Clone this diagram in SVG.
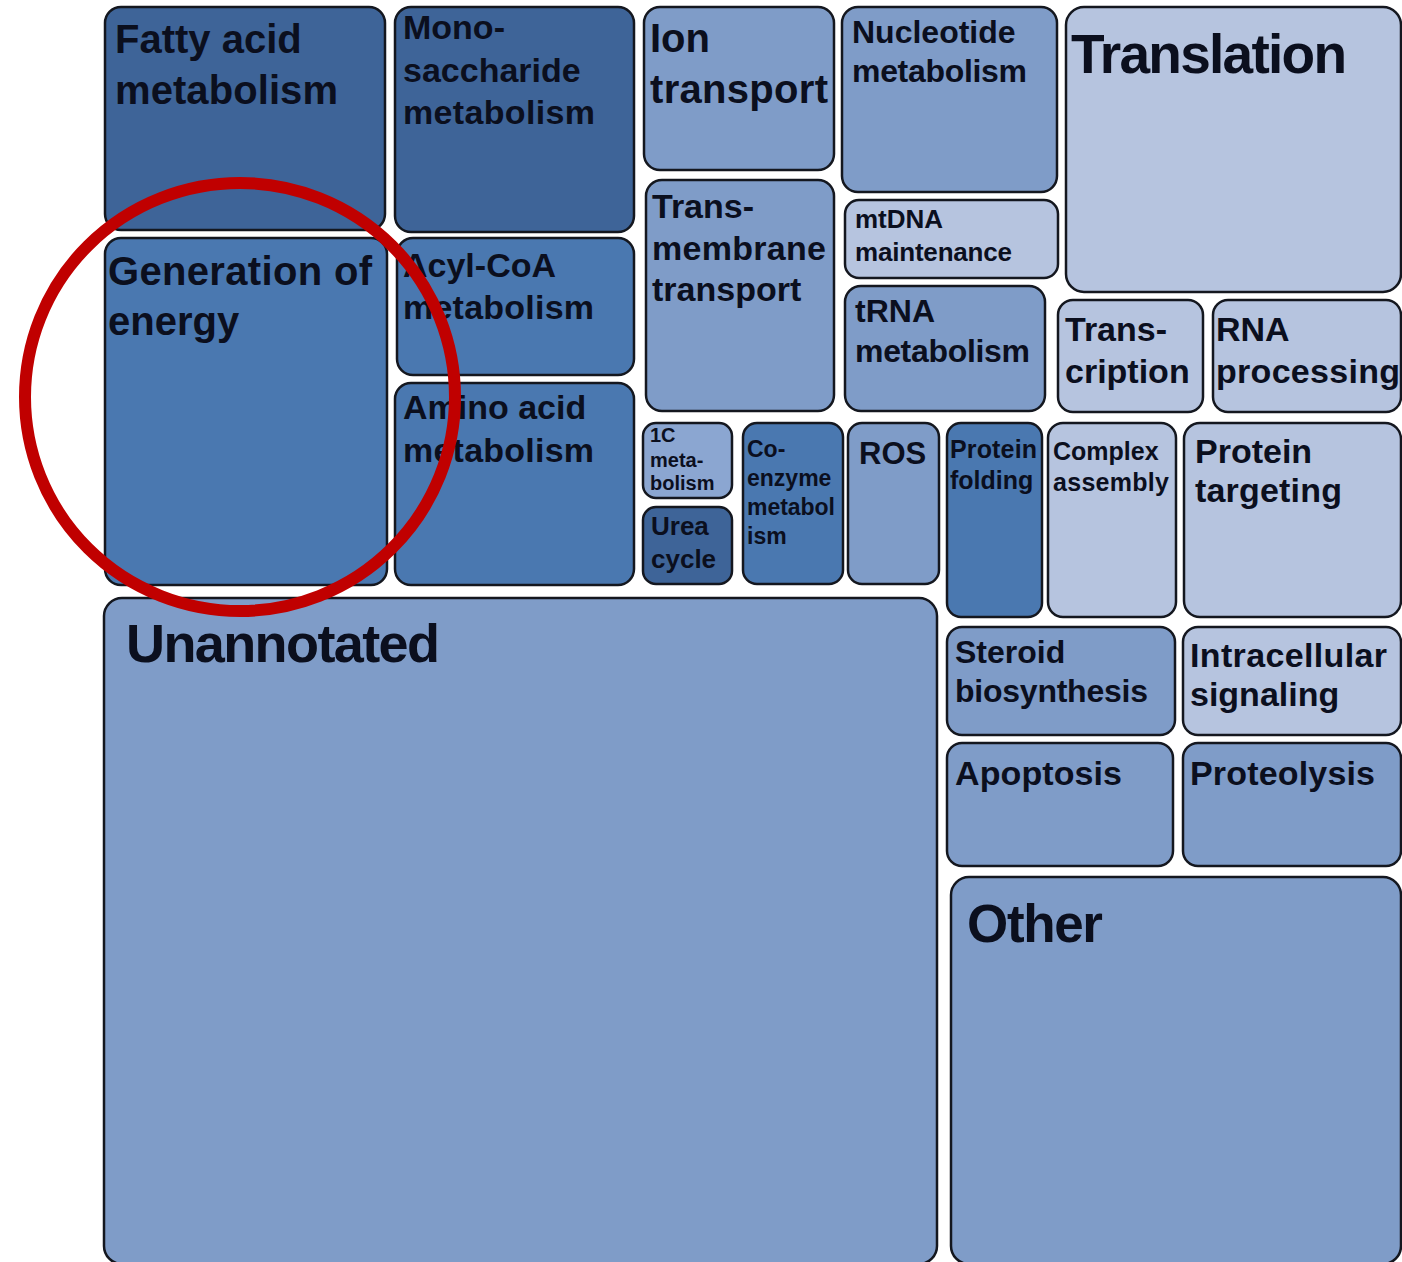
<svg xmlns="http://www.w3.org/2000/svg" width="1402" height="1262" viewBox="0 0 1402 1262">
<style>
.b{stroke:#14171f;stroke-width:2.5}
.d{fill:#3e6498}
.m{fill:#4a78b0}
.l{fill:#7f9cc8}
.l2{fill:#8ba6d1}
.x{fill:#b6c4df}
text{font-family:"Liberation Sans",Arial,Helvetica,sans-serif;font-weight:bold;fill:#0b0f1e}
</style>
<rect width="1402" height="1262" fill="#ffffff"/>
<g id="fatty-acid"><rect class="b d" x="105" y="7" width="280" height="223" rx="16"/><text font-size="40"><tspan x="115" y="53">Fatty acid</tspan><tspan x="115" y="104" textLength="223">metabolism</tspan></text></g>
<g id="monosaccharide"><rect class="b d" x="395" y="7" width="239" height="225" rx="16"/><text font-size="34"><tspan x="403" y="39">Mono-</tspan><tspan x="403" y="82">saccharide</tspan><tspan x="403" y="124" textLength="192">metabolism</tspan></text></g>
<g id="generation-energy"><rect class="b m" x="105" y="238" width="282" height="347" rx="16"/><text font-size="40"><tspan x="108" y="285" textLength="264">Generation of</tspan><tspan x="108" y="335">energy</tspan></text></g>
<g id="acyl-coa"><rect class="b m" x="397" y="238" width="237" height="137" rx="16"/><text font-size="34"><tspan x="403" y="277">Acyl-CoA</tspan><tspan x="403" y="319" textLength="191">metabolism</tspan></text></g>
<g id="amino-acid"><rect class="b m" x="395" y="383" width="239" height="202" rx="16"/><text font-size="34"><tspan x="403" y="419">Amino acid</tspan><tspan x="403" y="462" textLength="191">metabolism</tspan></text></g>
<g id="ion-transport"><rect class="b l" x="644" y="7" width="190" height="163" rx="16"/><text font-size="40"><tspan x="650" y="52">Ion</tspan><tspan x="650" y="103" textLength="178">transport</tspan></text></g>
<g id="transmembrane"><rect class="b l" x="646" y="180" width="188" height="231" rx="16"/><text font-size="34"><tspan x="652" y="218">Trans-</tspan><tspan x="652" y="260" textLength="174">membrane</tspan><tspan x="652" y="301">transport</tspan></text></g>
<g id="nucleotide"><rect class="b l" x="842" y="7" width="215" height="185" rx="16"/><text font-size="32"><tspan x="852" y="43">Nucleotide</tspan><tspan x="852" y="82" textLength="175">metabolism</tspan></text></g>
<g id="mtdna"><rect class="b x" x="845" y="200" width="213" height="78" rx="14"/><text font-size="26"><tspan x="855" y="228">mtDNA</tspan><tspan x="855" y="261" textLength="157">maintenance</tspan></text></g>
<g id="trna"><rect class="b l" x="845" y="286" width="200" height="125" rx="16"/><text font-size="32"><tspan x="855" y="322">tRNA</tspan><tspan x="855" y="362" textLength="175">metabolism</tspan></text></g>
<g id="translation"><rect class="b x" x="1066" y="7" width="335" height="285" rx="18"/><text font-size="55" x="1071" y="73" textLength="276">Translation</text></g>
<g id="transcription"><rect class="b x" x="1058" y="300" width="145" height="112" rx="15"/><text font-size="34"><tspan x="1065" y="341">Trans-</tspan><tspan x="1065" y="383">cription</tspan></text></g>
<g id="rna-processing"><rect class="b x" x="1213" y="300" width="188" height="112" rx="15"/><text font-size="34"><tspan x="1216" y="341">RNA</tspan><tspan x="1216" y="383" textLength="184">processing</tspan></text></g>
<g id="one-carbon"><rect class="b l2" x="643" y="423" width="89" height="75" rx="13"/><text font-size="20"><tspan x="650" y="442">1C</tspan><tspan x="650" y="467">meta-</tspan><tspan x="650" y="490">bolism</tspan></text></g>
<g id="urea-cycle"><rect class="b d" x="643" y="507" width="89" height="77" rx="13"/><text font-size="26"><tspan x="651" y="535">Urea</tspan><tspan x="651" y="568">cycle</tspan></text></g>
<g id="coenzyme"><rect class="b m" x="743" y="423" width="100" height="161" rx="14"/><text font-size="23"><tspan x="747" y="457">Co-</tspan><tspan x="747" y="486">enzyme</tspan><tspan x="747" y="515" textLength="88">metabol</tspan><tspan x="747" y="544">ism</tspan></text></g>
<g id="ros"><rect class="b l" x="848" y="423" width="91" height="161" rx="14"/><text font-size="31" x="859" y="464">ROS</text></g>
<g id="protein-folding"><rect class="b m" x="947" y="423" width="95" height="194" rx="14"/><text font-size="25"><tspan x="950" y="458" textLength="87">Protein</tspan><tspan x="950" y="489">folding</tspan></text></g>
<g id="complex-assembly"><rect class="b x" x="1048" y="423" width="128" height="194" rx="15"/><text font-size="25"><tspan x="1053" y="460">Complex</tspan><tspan x="1053" y="491" textLength="116">assembly</tspan></text></g>
<g id="protein-targeting"><rect class="b x" x="1184" y="423" width="217" height="194" rx="16"/><text font-size="34"><tspan x="1195" y="463">Protein</tspan><tspan x="1195" y="502" textLength="147">targeting</tspan></text></g>
<g id="unannotated"><rect class="b l" x="104" y="598" width="833" height="666" rx="18"/><text font-size="54" x="126" y="662" textLength="314">Unannotated</text></g>
<g id="steroid"><rect class="b l" x="947" y="627" width="228" height="108" rx="15"/><text font-size="32"><tspan x="955" y="663">Steroid</tspan><tspan x="955" y="702" textLength="193">biosynthesis</tspan></text></g>
<g id="intracellular"><rect class="b x" x="1183" y="627" width="218" height="108" rx="15"/><text font-size="34"><tspan x="1190" y="667" textLength="197">Intracellular</tspan><tspan x="1190" y="706">signaling</tspan></text></g>
<g id="apoptosis"><rect class="b l" x="947" y="743" width="226" height="123" rx="15"/><text font-size="34" x="955" y="785" textLength="167">Apoptosis</text></g>
<g id="proteolysis"><rect class="b l" x="1183" y="743" width="218" height="123" rx="15"/><text font-size="34" x="1190" y="785" textLength="185">Proteolysis</text></g>
<g id="other"><rect class="b l" x="951" y="877" width="450" height="387" rx="18"/><text font-size="53" x="967" y="942" textLength="136">Other</text></g>
<g id="connectors"></g>
<g id="highlight"><ellipse cx="240" cy="397" rx="215" ry="214" fill="none" stroke="#c00000" stroke-width="12"/></g>
</svg>
